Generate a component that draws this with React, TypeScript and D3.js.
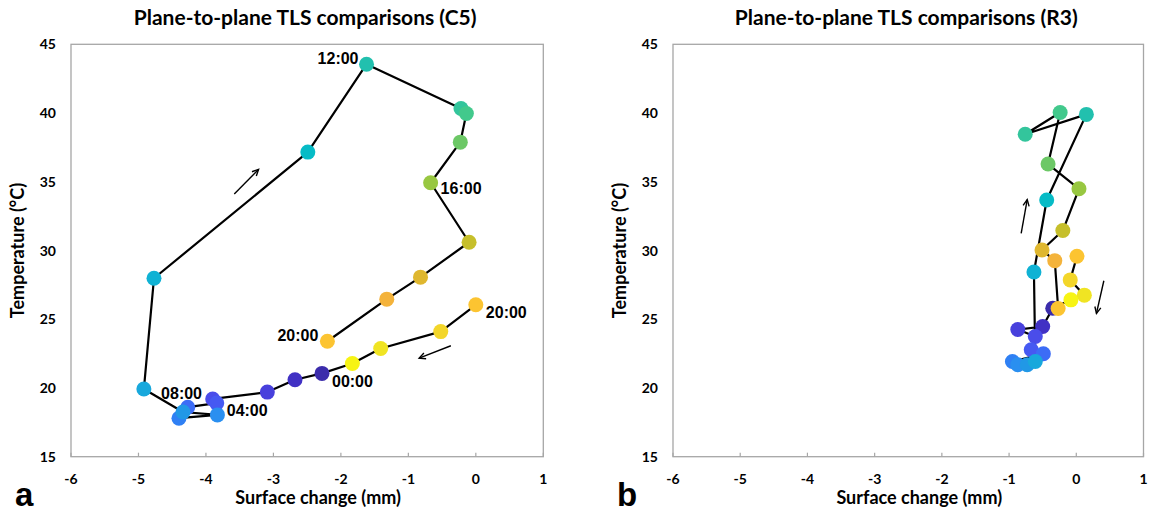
import React from 'react';
import * as d3 from 'd3';

// ---- data ----
const HOURS = [20, 21, 22, 23, 0, 1, 2, 3, 4, 5, 6, 7, 8, 9, 10, 11, 12, 13, 14, 15, 16, 17, 18, 19, 20];

const C5_SURFACE = [0.0, -0.52, -1.41, -1.83, -2.28, -2.68, -3.09, -3.9, -3.84, -4.27, -4.4, -3.83, -4.34, -4.92, -4.77, -2.49, -1.62, -0.22, -0.14, -0.23, -0.67, -0.1, -0.82, -1.32, -2.2];
const C5_TEMP = [26.05, 24.1, 22.87, 21.78, 21.06, 20.6, 19.7, 19.2, 18.9, 18.6, 17.8, 18.04, 18.25, 19.92, 27.98, 37.16, 43.55, 40.33, 39.97, 37.88, 34.93, 30.6, 28.06, 26.46, 23.4];

const R3_SURFACE = [0.01, -0.09, 0.12, -0.08, -0.35, -0.5, -0.87, -0.61, -0.67, -0.49, -0.95, -0.87, -0.73, -0.61, -0.63, -0.44, 0.15, -0.76, -0.24, -0.42, 0.04, -0.2, -0.51, -0.32, -0.27];
const R3_TEMP = [29.58, 27.86, 26.75, 26.41, 25.8, 24.47, 24.25, 23.74, 22.78, 22.49, 21.93, 21.69, 21.69, 21.93, 28.44, 33.67, 39.9, 38.46, 40.04, 36.29, 34.49, 31.45, 30.04, 29.26, 25.78];

const X_TICKS = [-6, -5, -4, -3, -2, -1, 0, 1];
const Y_TICKS = [15, 20, 25, 30, 35, 40, 45];

const C5_LABELS = [
  { i: 16, text: '12:00' },
  { i: 20, text: '16:00' },
  { i: 0, text: '20:00' },
  { i: 24, text: '20:00' },
  { i: 4, text: '00:00' },
  { i: 8, text: '04:00' },
  { i: 12, text: '08:00' },
];
// label placement (style): anchor and pixel offsets
const C5_LABEL_STYLE = [
  { anchor: 'end', dx: -8, dy: -6 },
  { anchor: 'start', dx: 10, dy: 6 },
  { anchor: 'start', dx: 10, dy: 8 },
  { anchor: 'end', dx: -9, dy: -6 },
  { anchor: 'start', dx: 10, dy: 8 },
  { anchor: 'start', dx: 10, dy: 7 },
  { anchor: 'end', dx: 19, dy: -19 },
];

// arrows in data coordinates [x1, y1, x2, y2]
const C5_ARROWS = [
  [-3.58, 34.11, -3.22, 35.9],
  [-0.37, 23.07, -0.84, 22.17],
];
const R3_ARROWS = [
  [-0.82, 31.25, -0.73, 33.7],
  [0.41, 27.8, 0.3, 25.43],
];

// colour per hour of day (parula-like)
const HOUR_COLORS = ['#3b2cab', '#4131c4', '#4840dc', '#4a4dea', '#4659f2', '#3c6cf6', '#2f80f4', '#2a8ff0', '#2198e6', '#18a8dc', '#10b2d4', '#06bbc6', '#22c0ae', '#33c59c', '#42c98c', '#6cc866', '#98c741', '#c6bf2b', '#dfb72f', '#f4b33b', '#fcc431', '#f3d62a', '#f0e423', '#f7f414'];

const TITLE_FONT = 'Lato, "Open Sans", sans-serif';
const LABEL_FONT = '"Liberation Sans", Arial, sans-serif';

type PanelProps = {
  x0: number; x1: number; title: string; letter: string;
  xs: number[]; ys: number[]; arrows: number[][];
  labels?: { i: number; text: string }[];
  labelStyle?: { anchor: string; dx: number; dy: number }[];
};

function Panel({ x0, x1, title, letter, xs, ys, arrows, labels, labelStyle }: PanelProps) {
  const yTop = 44.3, yBot = 456.7;
  const x = d3.scaleLinear().domain([-6, 1]).range([x0, x1]);
  const y = d3.scaleLinear().domain([15, 45]).range([yBot, yTop]);
  const line = d3.line<number>().x((_, i) => x(xs[i])).y((_, i) => y(ys[i]));
  const cx = (x0 + x1) / 2;

  const arrowHead = (a: number[]) => {
    const sx = x(a[0]), sy = y(a[1]), ex = x(a[2]), ey = y(a[3]);
    const ang = Math.atan2(ey - sy, ex - sx);
    const L = 7, s = 0.45;
    const p1 = [ex - L * Math.cos(ang - s), ey - L * Math.sin(ang - s)];
    const p2 = [ex - L * Math.cos(ang + s), ey - L * Math.sin(ang + s)];
    return `M${p1[0]},${p1[1]}L${ex},${ey}L${p2[0]},${p2[1]}`;
  };

  return (
    <g>
      <text x={cx - 2} y={25} textAnchor="middle" fontFamily={TITLE_FONT} fontWeight={700} fontSize={21} fill="#000">{title}</text>
      <rect x={x0} y={yTop} width={x1 - x0} height={yBot - yTop} fill="none" stroke="#a6a6a6" strokeWidth={1.3} />
      {X_TICKS.map(t => (
        <g key={'xt' + t}>
          <line x1={x(t)} x2={x(t)} y1={yBot} y2={yBot - 4} stroke="#a6a6a6" strokeWidth={1.2} />
          <text x={x(t)} y={483.5} textAnchor="middle" fontFamily={TITLE_FONT} fontWeight={700} fontSize={14}>{t}</text>
        </g>
      ))}
      {Y_TICKS.map(t => (
        <text key={'yt' + t} x={x0 - 15} y={y(t) + 5} textAnchor="end" fontFamily={TITLE_FONT} fontWeight={700} fontSize={14}>{t}</text>
      ))}
      <text x={cx + 11} y={504} textAnchor="middle" fontFamily={TITLE_FONT} fontWeight={700} fontSize={18}>Surface change (mm)</text>
      <text transform={`translate(${x0 - 47},${(yTop + yBot) / 2}) rotate(-90)`} textAnchor="middle" fontFamily={TITLE_FONT} fontWeight={700} fontSize={18}>Temperature (°C)</text>
      <text x={x0 - 56} y={506} fontFamily={LABEL_FONT} fontWeight={700} fontSize={33}>{letter}</text>

      <path d={line(xs) || ''} fill="none" stroke="#000" strokeWidth={2.2} strokeLinejoin="round" />
      {arrows.map((a, k) => (
        <g key={'ar' + k} stroke="#000" strokeWidth={1.4} fill="none">
          <line x1={x(a[0])} y1={y(a[1])} x2={x(a[2])} y2={y(a[3])} />
          <path d={arrowHead(a)} />
        </g>
      ))}
      {xs.map((v, i) => (
        <circle key={'p' + i} cx={x(v)} cy={y(ys[i])} r={7.5} fill={HOUR_COLORS[HOURS[i]]} />
      ))}
      {labels && labels.map((l, k) => {
        const st = labelStyle![k];
        return (
          <text key={'lb' + k} x={x(xs[l.i]) + st.dx} y={y(ys[l.i]) + st.dy} dy="0.35em"
            textAnchor={st.anchor as any} fontFamily={LABEL_FONT} fontWeight={700} fontSize={16}>{l.text}</text>
        );
      })}
    </g>
  );
}

export default function App() {
  return (
    <svg width={1151} height={513} style={{ position: 'absolute', left: 0, top: 0, display: 'block', background: '#fff' }}>
      <rect width={1151} height={513} fill="#fff" />
      <Panel x0={71} x1={543.3} title="Plane-to-plane TLS comparisons (C5)" letter="a"
        xs={C5_SURFACE} ys={C5_TEMP} arrows={C5_ARROWS} labels={C5_LABELS} labelStyle={C5_LABEL_STYLE} />
      <Panel x0={673} x1={1143.5} title="Plane-to-plane TLS comparisons (R3)" letter="b"
        xs={R3_SURFACE} ys={R3_TEMP} arrows={R3_ARROWS} />
    </svg>
  );
}
